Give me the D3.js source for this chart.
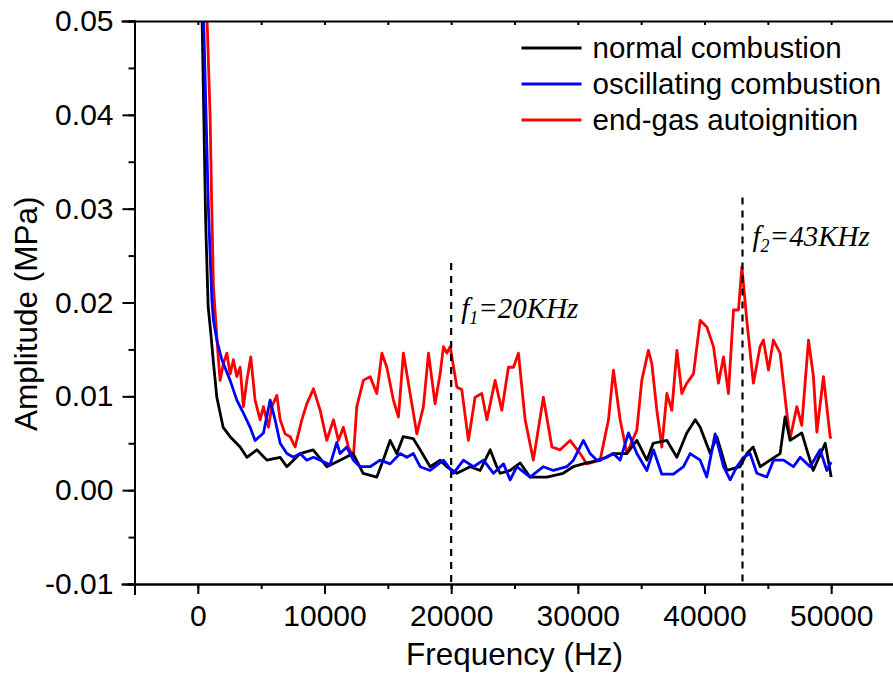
<!DOCTYPE html>
<html>
<head>
<meta charset="utf-8">
<script src="https://cdn.jsdelivr.net/npm/d3@7"></script>
<style>
    body { margin: 0; background: #fff; }
    .axis text { font-family: "Liberation Sans", Arial, sans-serif; font-size: 30px; fill: #000; }
    .axis path, .axis line { stroke: #000; stroke-width: 2px; }
    .series { fill: none; stroke-width: 2.8px; stroke-linejoin: round; }
</style>
</head>
<body>
<div class="chart"></div>
<script>
'use strict';

// frequency (Hz) / amplitude (MPa)
const freqNormal = [300, 340, 616, 813, 1026, 1232, 1500, 1997, 2550, 3340, 3870, 4660, 5450, 6500, 7030, 8080, 9100,
    10180, 11230, 12260, 13050, 14130, 14630, 15180, 15710, 16210, 17000, 17550, 18340, 19130, 19660, 20450, 21500,
    22290, 23080, 23600, 23870, 24660, 25450, 26230, 27550, 28840, 29630, 30710, 31760, 32790, 33870, 34660, 35450,
    35950, 37030, 37820, 38600, 39270, 39660, 40450, 40970, 41760, 42810, 43340, 43840, 44390, 45180, 45970, 46360,
    46760, 47680, 48080, 48580, 49530, 50000];
const ampNormal = [0.053, 0.050, 0.0288, 0.0196, 0.0167, 0.0136, 0.0099, 0.0067, 0.0057, 0.0046, 0.0035, 0.0043, 0.0032,
    0.0035, 0.0025, 0.0039, 0.0043, 0.0025, 0.0032, 0.0039, 0.0018, 0.0014, 0.0032, 0.0053, 0.0039, 0.0057, 0.0055,
    0.0043, 0.0025, 0.0032, 0.0025, 0.0018, 0.0025, 0.0021, 0.0043, 0.0025, 0.0018, 0.0021, 0.0029, 0.0014, 0.0014,
    0.0018, 0.0025, 0.0029, 0.0032, 0.0039, 0.0039, 0.0053, 0.0032, 0.0050, 0.0053, 0.0035, 0.0061, 0.0075, 0.0067,
    0.0039, 0.0057, 0.0021, 0.0025, 0.0039, 0.0046, 0.0025, 0.0032, 0.0039, 0.0078, 0.0053, 0.0061, 0.0043, 0.0021,
    0.0050, 0.0014];

const freqOscillating = [400, 460, 837, 1105, 1232, 1500, 1895, 2550, 3079, 3600, 4130, 4520, 5180, 5710, 6100, 6500,
    7030, 7550, 8080, 8600, 9130, 9660, 10440, 10970, 11230, 11760, 12280, 12810, 13600, 14390, 15180, 15970, 16500,
    17020, 17550, 18340, 19390, 20180, 20970, 21760, 22550, 23340, 24130, 24660, 25180, 26230, 27280, 28070, 29130,
    29650, 30440, 30970, 31500, 32290, 32810, 33340, 34000, 34660, 35450, 35970, 36630, 37550, 38340, 38870, 39660,
    40180, 40840, 41500, 42030, 42550, 43080, 43600, 44130, 44920, 45450, 46240, 47020, 47550, 48340, 49130, 49660,
    50000];
const ampOscillating = [0.053, 0.050, 0.0299, 0.0203, 0.0181, 0.0160, 0.0139, 0.0117, 0.0096, 0.0082, 0.0067, 0.0053,
    0.0061, 0.0096, 0.0075, 0.0050, 0.0039, 0.0035, 0.0039, 0.0032, 0.0035, 0.0032, 0.0027, 0.0051, 0.0039, 0.0046,
    0.0032, 0.0025, 0.0025, 0.0032, 0.0028, 0.0039, 0.0035, 0.0039, 0.0025, 0.0021, 0.0032, 0.0018, 0.0032, 0.0025,
    0.0032, 0.0018, 0.0028, 0.0011, 0.0025, 0.0014, 0.0025, 0.0021, 0.0025, 0.0032, 0.0053, 0.0039, 0.0032, 0.0035,
    0.0039, 0.0032, 0.0061, 0.0039, 0.0021, 0.0043, 0.0017, 0.0017, 0.0025, 0.0039, 0.0032, 0.0014, 0.0060, 0.0025,
    0.0011, 0.0025, 0.0035, 0.0039, 0.0018, 0.0014, 0.0032, 0.0032, 0.0025, 0.0035, 0.0025, 0.0043, 0.0021, 0.0030];

const freqAutoignition = [650, 734, 971, 1090, 1232, 1500, 1626, 1760, 2021, 2290, 2550, 2810, 3079, 3340, 3600, 3870,
    4180, 4520, 4920, 5180, 5570, 5840, 6240, 6500, 6890, 7290, 7680, 8210, 8600, 9130, 9660, 10180, 10710, 11100,
    11490, 11890, 12280, 12550, 13070, 13600, 14130, 14530, 14920, 15440, 15840, 16230, 16760, 17290, 17810, 18210,
    18730, 19130, 19390, 19660, 19920, 20450, 20840, 21360, 21890, 22420, 22820, 23470, 24000, 24520, 24920, 25310,
    25840, 26490, 27280, 27950, 28600, 29390, 30180, 30710, 31760, 32420, 32810, 33340, 33870, 34660, 35050, 35570,
    35840, 36240, 36630, 37030, 37420, 37820, 38210, 38600, 39130, 39660, 40180, 40710, 41100, 41500, 41890, 42290,
    42680, 42950, 43340, 43860, 44390, 44650, 45050, 45440, 45970, 46500, 46760, 47290, 47680, 48210, 48600, 48870,
    49390, 49920, 50000];
const ampAutoignition = [0.053, 0.050, 0.0398, 0.0309, 0.0217, 0.0163, 0.0139, 0.0117, 0.0135, 0.0146, 0.0124, 0.0139,
    0.0121, 0.0131, 0.0089, 0.0117, 0.0142, 0.0096, 0.0075, 0.0089, 0.0067, 0.0089, 0.0101, 0.0075, 0.0060, 0.0057,
    0.0046, 0.0075, 0.0092, 0.0108, 0.0085, 0.0053, 0.0075, 0.0053, 0.0067, 0.0046, 0.0035, 0.0089, 0.0117, 0.0121,
    0.0103, 0.0146, 0.0131, 0.0096, 0.0078, 0.0146, 0.0103, 0.0060, 0.0089, 0.0146, 0.0092, 0.0124, 0.0153, 0.0146,
    0.0153, 0.0110, 0.0107, 0.0053, 0.0099, 0.0103, 0.0075, 0.0117, 0.0085, 0.0131, 0.0131, 0.0146, 0.0075, 0.0032,
    0.0099, 0.0046, 0.0043, 0.0053, 0.0039, 0.0028, 0.0032, 0.0075, 0.0128, 0.0075, 0.0039, 0.0064, 0.0117, 0.0149,
    0.0135, 0.0085, 0.0046, 0.0103, 0.0085, 0.0149, 0.0103, 0.0114, 0.0124, 0.0181, 0.0174, 0.0153, 0.0114, 0.0142,
    0.0103, 0.0192, 0.0192, 0.0238, 0.0181, 0.0114, 0.0153, 0.0160, 0.0128, 0.0160, 0.0146, 0.0082, 0.0055, 0.0089,
    0.0069, 0.0160, 0.0121, 0.0062, 0.0121, 0.0057, 0.0055];

const seriesNames = ['normal combustion', 'oscillating combustion', 'end-gas autoignition'];
const seriesColors = ['#000000', '#0000ff', '#ff0000'];

// marker lines: frequency, top of the dashed line, label
const markerFreq = [20000, 43000];
const markerTop = [0.0242, 0.0312];
const markerSub = ['1', '2'];
const markerText = ['=20KHz', '=43KHz'];

const xTicks = [0, 10000, 20000, 30000, 40000, 50000];
const yTicks = [-0.01, 0, 0.01, 0.02, 0.03, 0.04, 0.05];

const margin = {top: 21, left: 134.5};
const width = 760;
const height = 563;

const xScale = d3.scaleLinear().domain([-5000, 55000]).range([0, width]);
const yScale = d3.scaleLinear().domain([-0.01, 0.05]).range([height, 0]);

function zip(freq, amp) {
    return freq.map((f, i) => ({f, a: amp[i]}));
}

function drawAxes(g) {
    const minorX = d3.range(-5000, 55001, 5000);
    const minorY = d3.range(-0.01, 0.0501, 0.005);

    g.append('g')
        .attr('class', 'axis')
        .attr('transform', `translate(0,${height})`)
        .call(d3.axisBottom(xScale).tickValues(minorX).tickSize(5).tickFormat(''));

    g.append('g')
        .attr('class', 'axis axis--x')
        .attr('transform', `translate(0,${height})`)
        .call(d3.axisBottom(xScale).tickValues(xTicks).tickSize(10).tickPadding(11).tickFormat(d3.format('d')));

    // top frame, ticks pointing inwards
    g.append('g')
        .attr('class', 'axis')
        .call(d3.axisTop(xScale).tickValues(minorX).tickSize(-4).tickFormat(''));

    g.append('g')
        .attr('class', 'axis')
        .call(d3.axisLeft(yScale).tickValues(minorY).tickSize(6).tickFormat(''));

    g.append('g')
        .attr('class', 'axis axis--y')
        .call(d3.axisLeft(yScale).tickValues(yTicks).tickSize(12).tickPadding(9).tickFormat(d => d.toFixed(2)));

    g.selectAll('.axis path').attr('stroke-linecap', 'square');

    g.append('text')
        .attr('x', xScale(25000))
        .attr('y', height + 81)
        .attr('text-anchor', 'middle')
        .style('font-family', '"Liberation Sans", Arial, sans-serif')
        .style('font-size', '31.5px')
        .text('Frequency (Hz)');

    g.append('text')
        .attr('transform', `translate(${37 - margin.left},${yScale(0.0188)}) rotate(-90)`)
        .attr('text-anchor', 'middle')
        .style('font-family', '"Liberation Sans", Arial, sans-serif')
        .style('font-size', '31.5px')
        .text('Amplitude (MPa)');
}

function drawSeries(g) {
    g.append('clipPath')
        .attr('id', 'plot-clip')
        .append('rect')
        .attr('width', width)
        .attr('height', height);

    const line = d3.line()
        .x(d => xScale(d.f))
        .y(d => yScale(d.a));

    const data = [
        zip(freqNormal, ampNormal),
        zip(freqOscillating, ampOscillating),
        zip(freqAutoignition, ampAutoignition)
    ];

    // red first so black/blue sit on top like in the original
    [2, 0, 1].forEach(i => {
        g.append('path')
            .attr('class', 'series')
            .attr('clip-path', 'url(#plot-clip)')
            .attr('stroke', seriesColors[i])
            .attr('d', line(data[i]));
    });
}

function drawMarkers(g) {
    markerFreq.forEach((f, i) => {
        g.append('line')
            .attr('x1', xScale(f))
            .attr('x2', xScale(f))
            .attr('y1', yScale(markerTop[i]))
            .attr('y2', height)
            .attr('stroke', '#000')
            .attr('stroke-width', 2.2)
            .attr('stroke-dasharray', '7,6');

        const label = g.append('text')
            .attr('x', xScale(f) + 10)
            .attr('y', yScale(markerTop[i]) + (i === 0 ? 55 : 49))
            .style('font-family', '"Liberation Serif", "Times New Roman", serif')
            .style('font-style', 'italic')
            .style('font-size', '29px');
        label.append('tspan').text('f');
        label.append('tspan')
            .attr('dy', 6)
            .style('font-size', '18px')
            .text(markerSub[i]);
        label.append('tspan')
            .attr('dy', -6)
            .text(markerText[i]);
    });
}

function drawLegend(g) {
    const legend = g.append('g')
        .attr('transform', `translate(${521.5 - margin.left},${48 - margin.top})`);

    seriesNames.forEach((name, i) => {
        const row = legend.append('g').attr('transform', `translate(0,${i * 36})`);
        row.append('line')
            .attr('x1', 0)
            .attr('x2', 60)
            .attr('stroke', seriesColors[i])
            .attr('stroke-width', 2.8);
        row.append('text')
            .attr('x', 71)
            .attr('y', 10)
            .style('font-family', '"Liberation Sans", Arial, sans-serif')
            .style('font-size', '29.5px')
            .text(name);
    });
}

function run() {
    const svg = d3.select('.chart').append('svg')
        .attr('width', 893)
        .attr('height', 682)
        .append('g')
        .attr('transform', `translate(${margin.left},${margin.top})`);

    drawSeries(svg);
    drawAxes(svg);
    drawMarkers(svg);
    drawLegend(svg);
}

run();
</script>
</body>
</html>
